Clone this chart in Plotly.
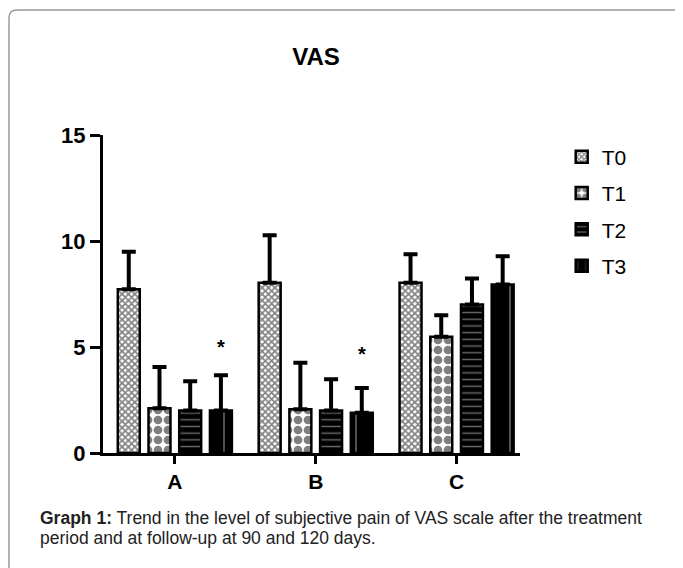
import plotly.graph_objects as go

categories = ["A", "B", "C"]
series_names = ["T0", "T1", "T2", "T3"]
values = {
    "T0": [7.72, 8.03, 8.03],
    "T1": [2.11, 2.06, 5.48],
    "T2": [2.01, 2.01, 7.01],
    "T3": [2.01, 1.90, 7.95],
}
errors = {
    "T0": [1.77, 2.24, 1.35],
    "T1": [1.95, 2.20, 1.02],
    "T2": [1.38, 1.47, 1.22],
    "T3": [1.66, 1.17, 1.33],
}
# significance markers: (category index, series, y position)
sig_markers = [(0, "T3", 5.0), (1, "T3", 4.65)]
y_ticks = [0, 5, 10, 15]

patterns = {
    "T0": dict(shape="x", size=4.5, solidity=0.6, fgcolor="black", bgcolor="white", fillmode="overlay"),
    "T1": dict(shape=".", size=10, solidity=0.6, fgcolor="black", bgcolor="white", fillmode="overlay"),
    "T2": dict(shape="-", size=6.7, solidity=0.22, fgcolor="#d0d0d0", bgcolor="black", fillmode="overlay"),
    "T3": dict(shape="|", size=22, solidity=0.07, fgcolor="#d0d0d0", bgcolor="black", fillmode="overlay"),
}

FONT = "Liberation Sans, Arial, sans-serif"
xs = list(range(len(categories)))

# page body has an 8px margin, so the figure is 8px smaller than the window
W, H = 675, 560
ML, MT, MR, MB = 95, 127, 163, 115

fig = go.Figure()
for i, s in enumerate(series_names):
    fig.add_trace(go.Bar(
        x=xs, y=values[s], name=s,
        legendgroup=s,
        marker=dict(color="white" if s in ("T0", "T1") else "black",
                    line=dict(color="black", width=2.5),
                    pattern=patterns[s]),
        error_y=dict(type="data", array=errors[s], arrayminus=[0] * len(xs),
                     symmetric=False, color="black", thickness=4, width=7),
    ))

bargap = 0.128
slot = (1 - bargap) / len(series_names)
order = {s: i for i, s in enumerate(series_names)}
for ci, s, yv in sig_markers:
    xpos = ci - (1 - bargap) / 2 + slot * (order[s] + 0.5)
    fig.add_annotation(x=xpos, y=yv, text="<b>*</b>", showarrow=False,
                       font=dict(family=FONT, size=20, color="black"),
                       xref="x", yref="y", yanchor="middle")

caption_lines = [
    "<b>Graph 1:</b> Trend in the level of subjective pain of VAS scale after the treatment",
    "period and at follow-up at 90 and 120 days.",
]
cap_y_px = [518, 538]
for line, ypx in zip(caption_lines, cap_y_px):
    fig.add_annotation(
        xref="paper", yref="paper", x=(38 - 103) / 417, y=(453 - ypx) / 318,
        xanchor="left", yanchor="middle", align="left", showarrow=False,
        text=line,
        font=dict(family=FONT, size=17.5, color="#222222"),
    )

# rounded frame
x0, x1 = -0.2254, 1.3885
y0, y1 = -0.40, 1.393
rx, ry = 0.0192, 0.0252
path = (f"M {x0},{y0} L {x0},{y1 - ry} Q {x0},{y1} {x0 + rx},{y1} "
        f"L {x1 - rx},{y1} Q {x1},{y1} {x1},{y1 - ry} L {x1},{y0}")
fig.add_shape(type="path", path=path, xref="paper", yref="paper",
              line=dict(color="#9a9a9a", width=1.5))

fig.update_layout(
    width=W, height=H,
    margin=dict(l=ML, r=MR, t=MT, b=MB),
    paper_bgcolor="white", plot_bgcolor="white",
    barmode="group", bargap=bargap, bargroupgap=0.285,
    title=dict(text="<b>VAS</b>", x=0.511, xref="paper", y=1 - (57 - 8) / H, yref="container",
               xanchor="center", yanchor="middle",
               font=dict(family=FONT, size=24, color="black")),
    legend=dict(x=1.10, y=0.995, xanchor="left", yanchor="top",
                font=dict(family=FONT, size=21, color="black"),
                tracegroupgap=6, traceorder="grouped", bgcolor="rgba(0,0,0,0)"),
    xaxis=dict(range=[-0.51, 2.45], tickvals=xs, ticktext=[f"<b>{c}</b>" for c in categories],
               showline=True, linecolor="black", linewidth=3, ticks="outside",
               ticklen=8, tickwidth=3, tickcolor="black", showgrid=False, zeroline=False,
               tickfont=dict(family=FONT, size=21, color="black")),
    yaxis=dict(range=[0, 15], tickvals=y_ticks, ticktext=[f"<b>{t}</b>" for t in y_ticks],
               showline=True, linecolor="black", linewidth=3, ticks="outside",
               ticklen=10, tickwidth=3, tickcolor="black", showgrid=False, zeroline=False,
               tickfont=dict(family=FONT, size=22, color="black")),
)

fig.write_html("out.html")
